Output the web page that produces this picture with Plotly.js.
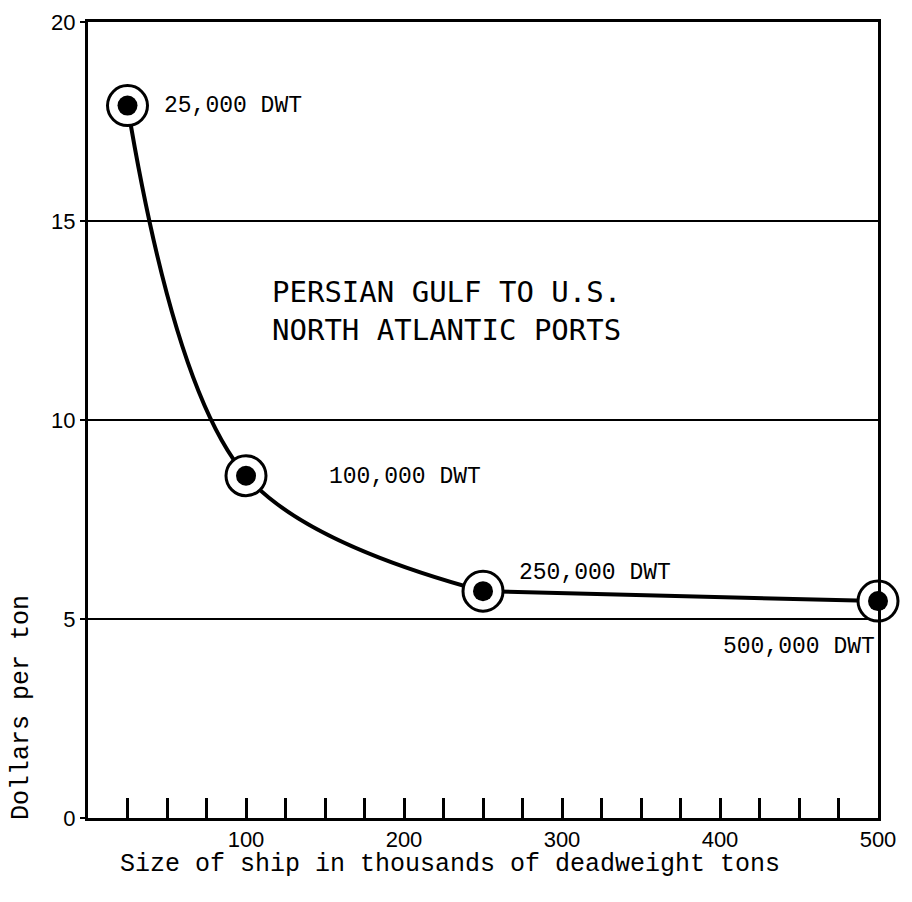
<!DOCTYPE html>
<html>
<head>
<meta charset="utf-8">
<script src="https://cdn.plot.ly/plotly-3.0.1.min.js"></script>
<style>html,body{margin:0;padding:0;background:#fff;}</style>
</head>
<body>
<div id="chart" style="width:912px;height:902px;"></div>
<script>
// Data
const shipSizes = [25, 100, 250, 500];           // thousands of DWT
const costPerTon = [17.9, 8.6, 5.7, 5.45];        // dollars per ton
const pointLabels = ['25,000 DWT', '100,000 DWT', '250,000 DWT', '500,000 DWT'];
const xTickVals = [100, 200, 300, 400, 500];
const xTickText = ['100', '200', '300', '400', '500'];
const yTickVals = [0, 5, 10, 15, 20];
const yTickText = ['0', '5', '10', '15', '20'];

const monoFont = '"Liberation Mono", "DejaVu Sans Mono", monospace';
const tickFontFamily = '"Liberation Sans Narrow", "Liberation Sans", Arial, sans-serif';

const traces = [
  { // curved part of the line (25k to 250k)
    x: shipSizes.slice(0, 3), y: costPerTon.slice(0, 3), type: 'scatter', mode: 'lines',
    line: {color: '#000', width: 4, shape: 'spline', smoothing: 1},
    cliponaxis: false, hoverinfo: 'skip'
  },
  { // nearly flat part (250k to 500k)
    x: shipSizes.slice(2), y: costPerTon.slice(2), type: 'scatter', mode: 'lines',
    line: {color: '#000', width: 4},
    cliponaxis: false, hoverinfo: 'skip'
  },
  {
    x: shipSizes, y: costPerTon, type: 'scatter', mode: 'markers',
    marker: {size: 40, color: '#fff', line: {color: '#000', width: 3}},
    cliponaxis: false
  },
  {
    x: shipSizes, y: costPerTon, type: 'scatter', mode: 'markers',
    marker: {size: 20, color: '#000'},
    cliponaxis: false
  }
];

// label offsets (pixels) relative to each point
const labelAnchor = ['left', 'left', 'left', 'right'];
const labelXShift = [34, 81, 34, -1];
const labelYShift = [0, -1, 18, -46];

const annotations = pointLabels.map((t, i) => ({
  x: shipSizes[i], y: costPerTon[i], xref: 'x', yref: 'y',
  text: t, showarrow: false, xanchor: labelAnchor[i], yanchor: 'middle',
  xshift: labelXShift[i], yshift: labelYShift[i],
  font: {family: monoFont, size: 23, color: '#000'}
}));

annotations.push({
  x: 115, y: 12.75, xref: 'x', yref: 'y',
  text: 'PERSIAN GULF TO U.S.<br>NORTH ATLANTIC PORTS',
  showarrow: false, xanchor: 'left', yanchor: 'middle', align: 'left',
  font: {family: '"DejaVu Sans Mono", "Liberation Mono", monospace', size: 29, color: '#000'}
});
annotations.push({
  x: 0.458, y: -0.058, xref: 'paper', yref: 'paper',
  text: 'Size of ship in thousands of deadweight tons',
  showarrow: false, xanchor: 'center', yanchor: 'middle',
  font: {family: monoFont, size: 25, color: '#000'}
});
annotations.push({
  x: -0.084, y: 0.139, xref: 'paper', yref: 'paper',
  text: 'Dollars per ton', textangle: -90,
  showarrow: false, xanchor: 'center', yanchor: 'middle',
  font: {family: monoFont, size: 25, color: '#000'}
});

const layout = {
  width: 912, height: 902,
  margin: {l: 88, r: 34, t: 22, b: 84},
  paper_bgcolor: '#fff', plot_bgcolor: '#fff',
  showlegend: false,
  xaxis: {
    range: [0, 500], showgrid: false, zeroline: false,
    showline: true, mirror: true, linecolor: '#000', linewidth: 3,
    tickmode: 'array', tickvals: xTickVals, ticktext: xTickText,
    ticks: 'inside', ticklen: 20, tickwidth: 3, tickcolor: '#000',
    ticklabelstandoff: 0,
    minor: {dtick: 25, tick0: 0, ticks: 'inside', ticklen: 20, tickwidth: 3, tickcolor: '#000', showgrid: false},
    tickfont: {family: tickFontFamily, size: 22, color: '#000'}
  },
  yaxis: {
    range: [0, 20], showgrid: true, gridcolor: '#000', gridwidth: 2, zeroline: false,
    showline: true, mirror: true, linecolor: '#000', linewidth: 3,
    tickmode: 'array', tickvals: yTickVals, ticktext: yTickText,
    ticks: 'outside', ticklen: 5, tickwidth: 2, tickcolor: '#000',
    tickfont: {family: tickFontFamily, size: 22, color: '#000'}
  },
  annotations: annotations
};

Plotly.newPlot('chart', traces, layout, {staticPlot: true});
</script>
</body>
</html>
